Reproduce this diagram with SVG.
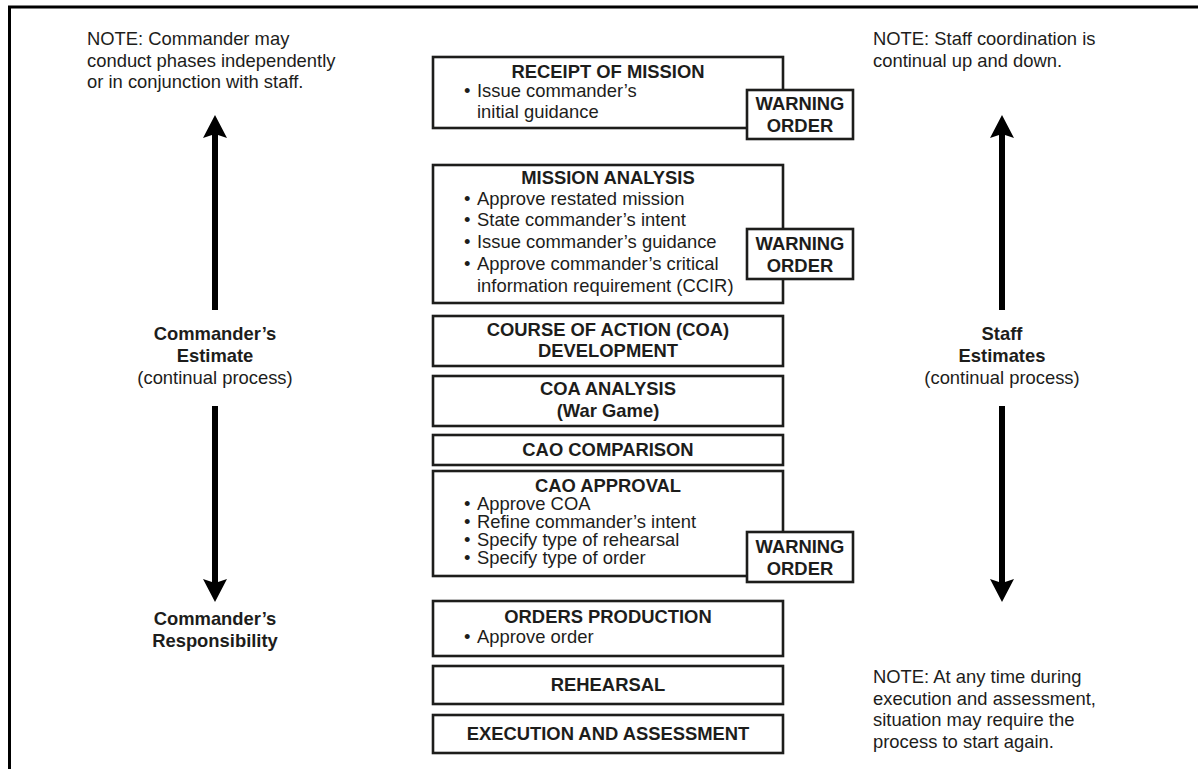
<svg xmlns="http://www.w3.org/2000/svg" width="1198" height="769" viewBox="0 0 1198 769">
<style>
text{font-family:"Liberation Sans",Arial,Helvetica,sans-serif;fill:#1d1d1b;}
.t{font-size:18.4px;font-weight:bold;text-anchor:middle;}
.b{font-size:18.4px;}
.n{font-size:18.4px;}
.c{font-size:18.4px;text-anchor:middle;}
.box{fill:#fff;stroke:#1d1d1b;stroke-width:2.6;}
.arr{fill:#000;}
</style>
<rect width="1198" height="769" fill="#fff"/>
<g id="frame"><path d="M9.5,769 V7 H1198" fill="none" stroke="#000" stroke-width="3"/></g>

<g id="note-left">
<text class="n" x="87" y="45">NOTE: Commander may</text>
<text class="n" x="87" y="67">conduct phases independently</text>
<text class="n" x="87" y="88">or in conjunction with staff.</text>
</g>
<g id="note-right">
<text class="n" x="873" y="45">NOTE: Staff coordination is</text>
<text class="n" x="873" y="67">continual up and down.</text>
</g>
<g id="note-bottom">
<text class="n" x="873" y="683">NOTE: At any time during</text>
<text class="n" x="873" y="705">execution and assessment,</text>
<text class="n" x="873" y="726">situation may require the</text>
<text class="n" x="873" y="748">process to start again.</text>
</g>

<g id="receipt">
<rect class="box" x="433" y="57" width="350" height="71"/>
<text class="t" x="608" y="78">RECEIPT OF MISSION</text>
<text class="b" y="97"><tspan x="464">•</tspan><tspan x="477">Issue commander’s</tspan></text>
<text class="b" x="477" y="118">initial guidance</text>
</g>
<g id="warning1">
<rect class="box" x="747" y="90" width="106" height="49"/>
<text class="t" x="800" y="110">WARNING</text>
<text class="t" x="800" y="132">ORDER</text>
</g>

<g id="mission-analysis">
<rect class="box" x="433" y="165" width="350" height="138"/>
<text class="t" x="608" y="184">MISSION ANALYSIS</text>
<text class="b" y="205"><tspan x="464">•</tspan><tspan x="477">Approve restated mission</tspan></text>
<text class="b" y="226"><tspan x="464">•</tspan><tspan x="477">State commander’s intent</tspan></text>
<text class="b" y="248"><tspan x="464">•</tspan><tspan x="477">Issue commander’s guidance</tspan></text>
<text class="b" y="270"><tspan x="464">•</tspan><tspan x="477">Approve commander’s critical</tspan></text>
<text class="b" x="477" y="292">information requirement (CCIR)</text>
</g>
<g id="warning2">
<rect class="box" x="747" y="229" width="106" height="50"/>
<text class="t" x="800" y="250">WARNING</text>
<text class="t" x="800" y="272">ORDER</text>
</g>

<g id="coa-development">
<rect class="box" x="433" y="316" width="350" height="50"/>
<text class="t" x="608" y="336">COURSE OF ACTION (COA)</text>
<text class="t" x="608" y="357">DEVELOPMENT</text>
</g>
<g id="coa-analysis">
<rect class="box" x="433" y="376" width="350" height="50"/>
<text class="t" x="608" y="395">COA ANALYSIS</text>
<text class="t" x="608" y="417">(War Game)</text>
</g>
<g id="cao-comparison">
<rect class="box" x="433" y="435" width="350" height="30"/>
<text class="t" x="608" y="456">CAO COMPARISON</text>
</g>
<g id="cao-approval">
<rect class="box" x="433" y="471" width="350" height="105"/>
<text class="t" x="608" y="492">CAO APPROVAL</text>
<text class="b" y="510"><tspan x="464">•</tspan><tspan x="477">Approve COA</tspan></text>
<text class="b" y="528"><tspan x="464">•</tspan><tspan x="477">Refine commander’s intent</tspan></text>
<text class="b" y="546"><tspan x="464">•</tspan><tspan x="477">Specify type of rehearsal</tspan></text>
<text class="b" y="564"><tspan x="464">•</tspan><tspan x="477">Specify type of order</tspan></text>
</g>
<g id="warning3">
<rect class="box" x="747" y="532" width="106" height="50"/>
<text class="t" x="800" y="553">WARNING</text>
<text class="t" x="800" y="575">ORDER</text>
</g>

<g id="orders-production">
<rect class="box" x="433" y="601" width="350" height="55"/>
<text class="t" x="608" y="623">ORDERS PRODUCTION</text>
<text class="b" y="643"><tspan x="464">•</tspan><tspan x="477">Approve order</tspan></text>
</g>
<g id="rehearsal">
<rect class="box" x="433" y="666" width="350" height="38"/>
<text class="t" x="608" y="691">REHEARSAL</text>
</g>
<g id="execution">
<rect class="box" x="433" y="715" width="350" height="38"/>
<text class="t" x="608" y="740">EXECUTION AND ASSESSMENT</text>
</g>

<g id="commander-estimate">
<text class="t" x="215" y="340">Commander’s</text>
<text class="t" x="215" y="362">Estimate</text>
<text class="c" x="215" y="384">(continual process)</text>
</g>
<g id="commander-responsibility">
<text class="t" x="215" y="625">Commander’s</text>
<text class="t" x="215" y="647">Responsibility</text>
</g>
<g id="staff-estimates">
<text class="t" x="1002" y="340">Staff</text>
<text class="t" x="1002" y="362">Estimates</text>
<text class="c" x="1002" y="384">(continual process)</text>
</g>

<g id="connectors">
<rect class="arr" x="212" y="132" width="6" height="178"/>
<path class="arr" d="M215,115 L227,138 L215,134 L203,138 Z"/>
<rect class="arr" x="212" y="406" width="6" height="180"/>
<path class="arr" d="M215,602 L227,579 L215,583 L203,579 Z"/>
<rect class="arr" x="999" y="132" width="6" height="178"/>
<path class="arr" d="M1002,115 L1014,138 L1002,134 L990,138 Z"/>
<rect class="arr" x="999" y="406" width="6" height="180"/>
<path class="arr" d="M1002,602 L1014,579 L1002,583 L990,579 Z"/>
</g>
</svg>
